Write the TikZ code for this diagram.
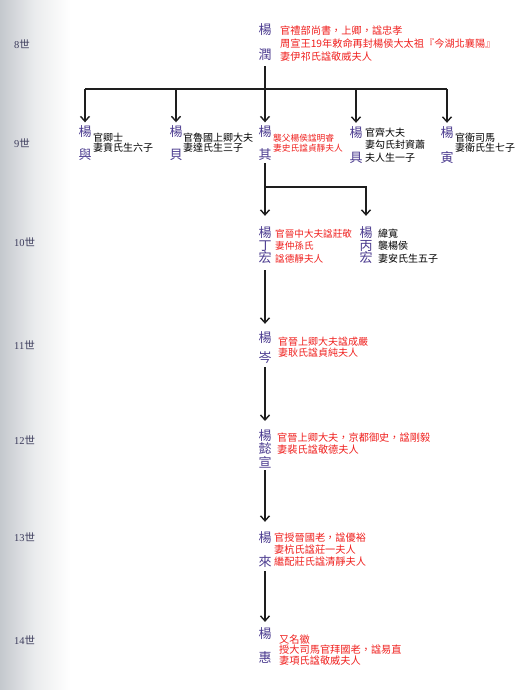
\documentclass[tikz,border=0pt]{standalone}
\usepackage{fontspec}
\setmainfont{Liberation Serif}
\newfontfamily\cjk{Noto Sans CJK TC}
\usetikzlibrary{arrows.meta}
\definecolor{namec}{HTML}{4B3B8F}
\definecolor{redc}{HTML}{F0201E}
\definecolor{genc}{HTML}{3C3C5C}
\definecolor{linec}{HTML}{1E1E1E}
\definecolor{edgec}{HTML}{C4C8CD}
\tikzset{
  person/.style={font=\cjk\fontsize{13}{13}\selectfont, text=namec, align=center, inner sep=1pt},
  redtxt/.style={font=\cjk\fontsize{10}{12.5}\selectfont, text=redc, align=left, anchor=west, inner sep=0pt},
  blktxt/.style={font=\cjk\fontsize{10}{10}\selectfont, text=black, align=left, anchor=west, inner sep=0pt},
  gen/.style={font=\fontsize{10.5}{10.5}\selectfont, text=genc, anchor=west, inner sep=0pt},
  conn/.style={draw=linec, line width=1.4pt},
  arr/.style={conn, -{Straight Barb[length=5pt,width=9pt]}},
}
\begin{document}
\begin{tikzpicture}[x=1pt,y=-1pt]
\useasboundingbox (0,0) rectangle (525,690);
\fill[white] (0,0) rectangle (525,690);
\shade[left color=edgec, right color=white, middle color=edgec!35] (0,0) rectangle (70,690);

% generation labels
\node[gen] (g8)  at (14,44)  {8{\cjk 世}};
\node[gen] (g9)  at (14,143) {9{\cjk 世}};
\node[gen] (g10) at (14,242) {10{\cjk 世}};
\node[gen] (g11) at (14,345) {11{\cjk 世}};
\node[gen] (g12) at (14,440) {12{\cjk 世}};
\node[gen] (g13) at (14,537) {13{\cjk 世}};
\node[gen] (g14) at (14,640) {14{\cjk 世}};

% 8th generation
\node[person] (p8) at (265,42.5) {楊\\[12pt]潤};
\node[redtxt, font=\cjk\fontsize{10.2}{13}\selectfont] (t8) at (280,44)
  {官禮部尚書，上卿，諡忠孝\\周宣王19年敕命再封楊侯大太祖『今湖北襄陽』\\妻伊祁氏諡敬威夫人};

% 9th generation
\node[person] (p9a) at (85,143.5)  {楊\\[10pt]與};
\node[person] (p9b) at (176,143.5) {楊\\[10pt]貝};
\node[person] (p9c) at (265,143.5) {楊\\[10pt]其};
\node[person] (p9d) at (356,145)   {楊\\[12pt]具};
\node[person] (p9e) at (447,145)   {楊\\[12pt]寅};
\node[blktxt] (t9a) at (93,143)  {官卿士\\妻賁氏生六子};
\node[blktxt] (t9b) at (183,143) {官魯國上卿大夫\\妻達氏生三子};
\node[redtxt, font=\cjk\fontsize{8.7}{10}\selectfont] (t9c) at (273,143) {襲父楊侯諡明睿\\妻史氏諡貞靜夫人};
\node[blktxt, font=\cjk\fontsize{10}{12.5}\selectfont] (t9d) at (365,145) {官齊大夫\\妻勾氏封資蕭\\夫人生一子};
\node[blktxt] (t9e) at (455,143) {官衛司馬\\妻衛氏生七子};

% 10th generation
\node[person, font=\cjk\fontsize{13}{12.5}\selectfont] (p10a) at (265,245.5) {楊\\丁\\宏};
\node[person, font=\cjk\fontsize{13}{12.5}\selectfont] (p10b) at (366,245.5) {楊\\丙\\宏};
\node[redtxt, font=\cjk\fontsize{9.6}{12.5}\selectfont] (t10a) at (275,246) {官晉中大夫諡莊敬\\妻仲孫氏\\諡德靜夫人};
\node[blktxt, font=\cjk\fontsize{10}{12.5}\selectfont] (t10b) at (378,246) {緯寬\\襲楊侯\\妻安氏生五子};

% 11th - 14th generation
\node[person] (p11) at (265,348) {楊\\[7pt]岑};
\node[redtxt, font=\cjk\fontsize{10}{11.5}\selectfont] (t11) at (278,347) {官晉上卿大夫諡成嚴\\妻耿氏諡貞純夫人};

\node[person, font=\cjk\fontsize{13}{13.5}\selectfont] (p12) at (265,448.5) {楊\\懿\\宣};
\node[redtxt, font=\cjk\fontsize{10.2}{12}\selectfont] (t12) at (277,444) {官晉上卿大夫，京都御史，諡剛毅\\妻裴氏諡敬德夫人};

\node[person] (p13) at (265,550) {楊\\[11pt]來};
\node[redtxt, font=\cjk\fontsize{10.2}{12}\selectfont] (t13) at (274,550) {官授晉國老，諡優裕\\妻杭氏諡莊一夫人\\繼配莊氏諡清靜夫人};

\node[person] (p14) at (265,645) {楊\\[11pt]惠};
\node[redtxt, font=\cjk\fontsize{10.2}{10.5}\selectfont] (t14) at (279,650) {又名徽\\授大司馬官拜國老，諡易直\\妻項氏諡敬威夫人};

% connectors 8 -> 9
\coordinate (b8) at (265,89);
\draw[conn, shorten <=4pt] (p8.south) -- (b8);
\draw[conn] (p9a.north |- b8) -- (p9e.north |- b8);
\foreach \c in {p9a,p9b,p9c,p9d,p9e}
  \draw[arr, shorten >=2.5pt] (\c.north |- b8) -- (\c.north);

% connectors 9 -> 10
\coordinate (b9) at (265,187);
\draw[arr, shorten <=1pt, shorten >=10pt] (p9c.south) -- (p10a.north);
\draw[arr, shorten >=10pt] (b9) -| (p10b.north);

% connectors down the line
\draw[arr, shorten <=5pt, shorten >=7pt] (p10a.south) -- (p11.north);
\draw[arr, shorten <=2pt, shorten >=7pt] (p11.south) -- (p12.north);
\draw[arr, shorten <=1pt, shorten >=9pt] (p12.south) -- (p13.north);
\draw[arr, shorten <=2pt, shorten >=4pt] (p13.south) -- (p14.north);
\end{tikzpicture}
\end{document}
